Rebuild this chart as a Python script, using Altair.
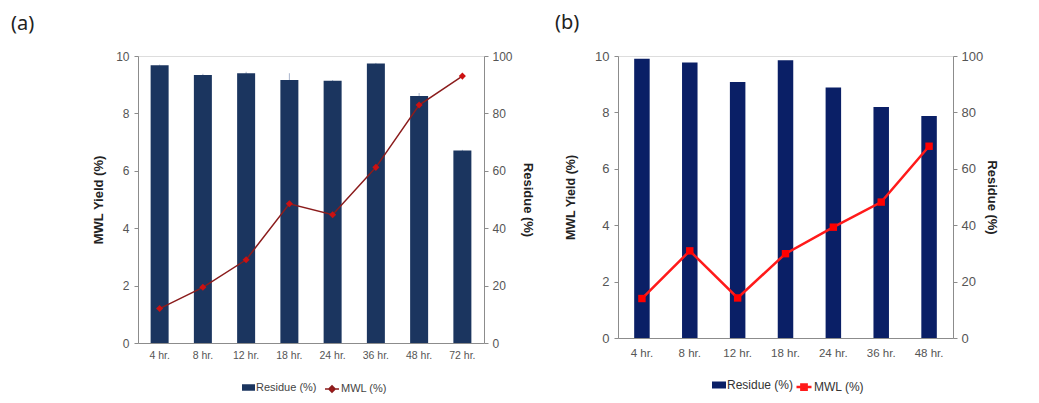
import altair as alt
import pandas as pd

# ---------------- data ----------------
times_a = ["4 hr.", "8 hr.", "12 hr.", "18 hr.", "24 hr.", "36 hr.", "48 hr.", "72 hr."]
residue_a = [96.8, 93.4, 94.0, 91.6, 91.4, 97.4, 86.1, 67.1]
residue_err_a = [0.2, 0.4, 0.5, 2.4, 0.2, 0.2, 1.0, 0.2]
mwl_a = [1.20, 1.94, 2.90, 4.85, 4.47, 6.12, 8.29, 9.30]

times_b = ["4 hr.", "8 hr.", "12 hr.", "18 hr.", "24 hr.", "36 hr.", "48 hr."]
residue_b = [99.0, 97.7, 90.8, 98.5, 88.8, 81.9, 78.7]
residue_err_b = [0, 0, 0, 0, 0, 0, 0]
mwl_b = [1.40, 3.09, 1.42, 2.99, 3.93, 4.82, 6.80]

left_ticks = [0, 2, 4, 6, 8, 10]
right_ticks = [0, 20, 40, 60, 80, 100]

NARROW = "Liberation Sans Narrow, Liberation Sans, Arial"
BOLD = "Liberation Sans, Arial"
AXIS_GRAY = "#8c8c8c"

RECT_PATH = "M-1,-0.5H1V0.5H-1Z"
LINE_DIAMOND = "M-1,0H1M0,-0.45L0.45,0L0,0.45L-0.45,0Z"
LINE_SQUARE = "M-1,0H1M-0.35,-0.35H0.35V0.35H-0.35Z"


def panel(label, times, residue, err, mwl, c):
    df = pd.DataFrame({
        "time": times, "residue": residue, "mwl": mwl,
        "res_lo": [r - e for r, e in zip(residue, err)],
        "res_hi": [r + e for r, e in zip(residue, err)],
        "res_label": ["Residue (%)"] * len(times),
        "mwl_label": ["MWL (%)"] * len(times),
    })
    base = alt.Chart(df)
    x = alt.X("time:N", sort=times, title=None,
              scale=alt.Scale(paddingInner=0, paddingOuter=0),
              axis=alt.Axis(labelAngle=0, ticks=False, domain=True,
                            domainColor=AXIS_GRAY, labelPadding=c["xpad"],
                            labelFont=NARROW, labelFontSize=c["xfs"],
                            labelColor="#555555", grid=False))
    yr_axis = alt.Axis(orient="right", values=right_ticks, title="Residue  (%)",
                       titleFont=BOLD, titleFontSize=13, titleFontWeight="bold",
                       titleColor="#222222", titlePadding=c["rtp"],
                       labelFont=NARROW, labelFontSize=c["yfs"], labelColor="#555555",
                       tickSize=4, tickColor=AXIS_GRAY, labelPadding=4,
                       domainColor=AXIS_GRAY, grid=False)
    yr = alt.Y("residue:Q", scale=alt.Scale(domain=[0, 100]), axis=yr_axis)
    errs = base.mark_rule(color="#a9b4cc", strokeWidth=1).encode(
        x=x,
        y=alt.Y("res_lo:Q", scale=alt.Scale(domain=[0, 100]), axis=yr_axis),
        y2="res_hi:Q",
    )
    bars = base.mark_bar(size=c["barw"]).encode(
        x=x,
        y=yr,
        fill=alt.Fill("res_label:N",
                      scale=alt.Scale(domain=["Residue (%)"], range=[c["bar"]]),
                      legend=alt.Legend(title=None, orient="none",
                                        legendX=c["lx1"], legendY=c["ly"],
                                        symbolType=RECT_PATH, symbolSize=c["ss"],
                                        symbolStrokeWidth=0, labelOffset=1,
                                        labelFont=NARROW, labelFontSize=c["lfs"],
                                        labelColor=c["ltc"])),
    )
    yl = alt.Y("mwl:Q", scale=alt.Scale(domain=[0, 10]),
               axis=alt.Axis(orient="left", values=left_ticks, title="MWL Yield (%)",
                             titleFont=BOLD, titleFontSize=c["ltfs"], titleFontWeight="bold",
                             titleColor="#222222", titlePadding=c["ltp"],
                             labelFont=NARROW, labelFontSize=c["yfs"], labelColor="#555555",
                             tickSize=4, tickColor=AXIS_GRAY, labelPadding=5,
                             domainColor=AXIS_GRAY, grid=False))
    line = base.mark_line(strokeWidth=c["lw"]).encode(
        x=x, y=yl,
        stroke=alt.Stroke("mwl_label:N",
                          scale=alt.Scale(domain=["MWL (%)"], range=[c["line"]]),
                          legend=alt.Legend(title=None, orient="none",
                                            legendX=c["lx2"], legendY=c["ly"],
                                            symbolType=c["msym"], symbolSize=c["ss2"],
                                            symbolFillColor=c["mark"],
                                            symbolStrokeWidth=c["lw"], labelOffset=1,
                                            labelFont=NARROW, labelFontSize=c["lfs"],
                                            labelColor=c["ltc"])),
    )
    pts = base.mark_point(filled=True, shape=c["shape"], size=c["msize"],
                          color=c["mark"], opacity=1).encode(x=x, y=yl)
    lab = alt.Chart(pd.DataFrame({"t": [label]})).mark_text(
        align="left", baseline="top", font="Noto Sans", fontSize=20, color="#222222"
    ).encode(x=alt.value(c["labx"]), y=alt.value(c["laby"]), text="t:N")
    return alt.layer(alt.layer(errs, bars), alt.layer(line, pts), lab).resolve_scale(
        y="independent").properties(width=c["w"], height=c["h"])


cfg_a = dict(w=346, h=287, barw=18, bar="#1b355f", line="#8b1c1c", mark="#cc1111",
             lw=1.5, shape="diamond", msize=50, msym=LINE_DIAMOND,
             xfs=10.5, xpad=7, yfs=12, ltfs=13, ltp=10, rtp=8,
             lx1=104, lx2=186, ly=325, ss=169, ss2=196, lfs=11, ltc="#444444",
             labx=-127, laby=-42)
cfg_b = dict(w=335, h=282, barw=15.5, bar="#0a1f66", line="#ff1a1a", mark="#ff0000",
             lw=2.5, shape="square", msize=55, msym=LINE_SQUARE,
             xfs=11.5, xpad=9, yfs=13, ltfs=12.5, ltp=17, rtp=2,
             lx1=94, lx2=177, ly=322, ss=196, ss2=225, lfs=12, ltc="#333333",
             labx=-63, laby=-43)

pa = panel("(a)", times_a, residue_a, residue_err_a, mwl_a, cfg_a)
pb = panel("(b)", times_b, residue_b, residue_err_b, mwl_b, cfg_b)

chart = alt.hconcat(pa, pb, spacing=20).resolve_scale(
    fill="independent", stroke="independent"
).resolve_legend(
    fill="independent", stroke="independent"
).properties(
    padding={"left": 2, "top": 4, "right": 6, "bottom": 0}
).configure_view(stroke=AXIS_GRAY, strokeWidth=1).configure(background="white")

chart.save("out.html", embed_options={"renderer": "svg", "actions": False})
